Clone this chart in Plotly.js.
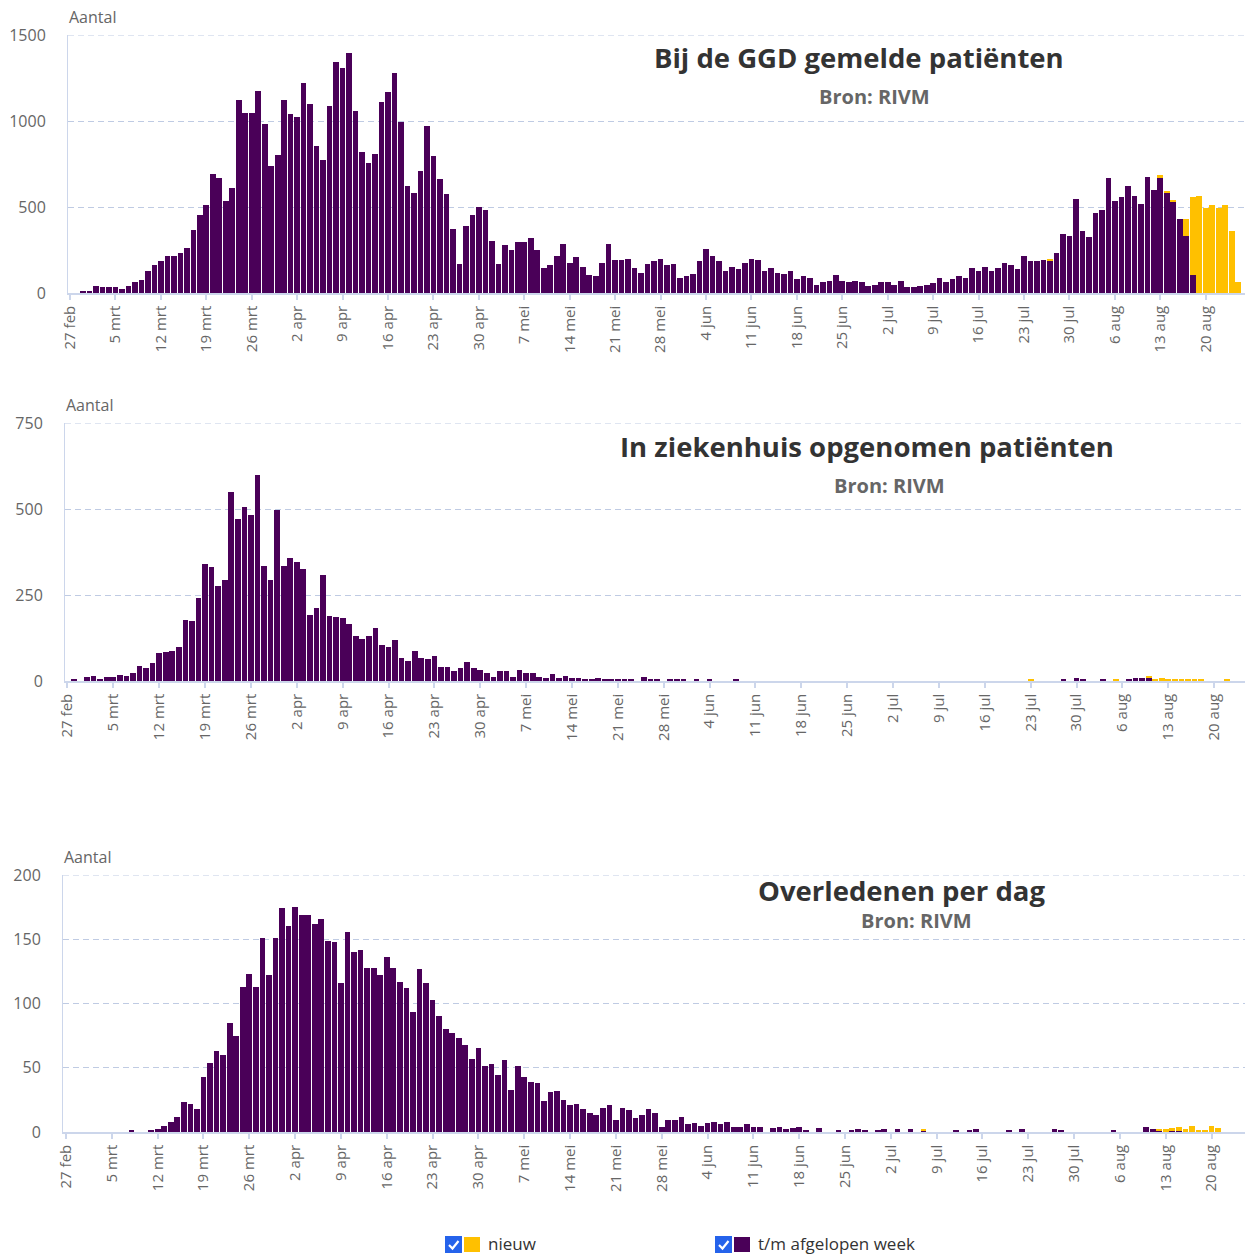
<!DOCTYPE html>
<html><head><meta charset="utf-8">
<script src="https://cdn.plot.ly/plotly-3.0.1.min.js"></script>
<style>html,body{margin:0;padding:0;background:#fff;}#chart{width:1247px;height:1255px;}</style>
</head><body><div id="chart"></div>
<script>
// ---- categories ----
const startDate = '2020-02-27';
const nDays = 181;
const tickDates = ['2020-02-27','2020-03-05','2020-03-12','2020-03-19','2020-03-26','2020-04-02','2020-04-09','2020-04-16','2020-04-23','2020-04-30','2020-05-07','2020-05-14','2020-05-21','2020-05-28','2020-06-04','2020-06-11','2020-06-18','2020-06-25','2020-07-02','2020-07-09','2020-07-16','2020-07-23','2020-07-30','2020-08-06','2020-08-13','2020-08-20'];
const tickLabels = ['27 feb','5 mrt','12 mrt','19 mrt','26 mrt','2 apr','9 apr','16 apr','23 apr','30 apr','7 mei','14 mei','21 mei','28 mei','4 jun','11 jun','18 jun','25 jun','2 jul','9 jul','16 jul','23 jul','30 jul','6 aug','13 aug','20 aug'];
const seriesNames = ['t/m afgelopen week','nieuw'];

// ---- GGD gemelde patiënten (from 27 feb) ----
const ggdWeek = [0,0,10,10,41,33,33,33,25,41,
64,74,129,160,184,215,215,230,264,367,
453,510,691,668,533,611,1121,1047,1047,1176,
984,740,803,1121,1039,1023,1223,1096,857,771,
1088,1342,1310,1396,1057,818,756,810,1111,1168,
1279,992,621,582,707,969,795,660,574,375,
168,391,455,500,484,303,168,279,248,297,
297,318,248,145,160,215,287,176,207,152,
104,96,176,287,191,191,199,145,119,168,
184,199,160,168,88,96,111,184,256,215,
184,129,152,137,176,199,191,129,145,119,
111,129,80,96,88,49,64,72,104,72,
64,72,64,41,49,64,64,49,72,33,
33,41,49,57,88,64,80,96,88,145,
129,152,129,145,176,160,137,215,184,184,
191,191,232,344,332,549,359,326,467,484,
668,533,557,621,564,518,676,596,674,582,
533,430,334,104,0,0,0,0,0,0,
0];
const ggdNew = [0,0,0,0,0,0,0,0,0,0,
0,0,0,0,0,0,0,0,0,0,
0,0,0,0,0,0,0,0,0,0,
0,0,0,0,0,0,0,0,0,0,
0,0,0,0,0,0,0,0,0,0,
0,0,0,0,0,0,0,0,0,0,
0,0,0,0,0,0,0,0,0,0,
0,0,0,0,0,0,0,0,0,0,
0,0,0,0,0,0,0,0,0,0,
0,0,0,0,0,0,0,0,0,0,
0,0,0,0,0,0,0,0,0,0,
0,0,0,0,0,0,0,0,0,0,
0,0,0,0,0,0,0,0,0,0,
0,0,0,0,0,0,0,0,0,0,
0,0,0,0,0,0,0,0,0,0,
0,4,0,0,0,0,0,0,0,0,
0,0,0,0,0,0,0,0,10,6,
8,0,96,453,566,494,510,494,510,359,
64];

// ---- In ziekenhuis opgenomen patiënten ----
const zhWeek = [0,6,0,11,14,7,11,11,18,14,
22,45,37,53,80,84,87,99,178,174,
240,341,330,276,295,549,470,506,482,600,
334,295,497,334,358,346,326,193,213,307,
189,186,182,166,131,123,131,155,104,100,
119,68,57,87,68,64,72,41,41,28,
37,55,37,32,24,13,29,29,13,32,
24,24,13,8,20,8,15,8,8,4,
4,8,4,4,4,4,4,0,12,5,
5,0,5,5,5,0,4,0,4,0,
0,0,4,0,0,0,0,0,0,0,
0,0,0,0,0,0,0,0,0,0,
0,0,0,0,0,0,0,0,0,0,
0,0,0,0,0,0,0,0,0,0,
0,0,0,0,0,0,0,0,0,0,
0,0,5,0,9,5,0,0,5,0,
0,0,5,9,9,9,0,0,0,0,
0,0,0,0,0,0,0,0,0,0,
0];
const zhNew = [0,0,0,0,0,0,0,0,0,0,
0,0,0,0,0,0,0,0,0,0,
0,0,0,0,0,0,0,0,0,0,
0,0,0,0,0,0,0,0,0,0,
0,0,0,0,0,0,0,0,0,0,
0,0,0,0,0,0,0,0,0,0,
0,0,0,0,0,0,0,0,0,0,
0,0,0,0,0,0,0,0,0,0,
0,0,0,0,0,0,0,0,0,0,
0,0,0,0,0,0,0,0,0,0,
0,0,0,0,0,0,0,0,0,0,
0,0,0,0,0,0,0,0,0,0,
0,0,0,0,0,0,0,0,0,0,
0,0,0,0,0,0,0,0,0,0,
0,0,0,0,0,0,0,5,0,0,
0,0,0,0,0,0,0,0,0,0,
5,0,0,0,0,4,5,9,5,5,
5,5,5,5,0,0,0,5,0,0,
0];

// ---- Overledenen per dag ----
const ovWeek = [0,0,0,0,0,0,0,0,0,0,
1,0,0,1,2,5,8,12,23,22,
18,43,54,63,60,85,75,113,123,113,
151,122,151,174,160,175,169,169,162,166,
149,148,116,156,140,142,128,128,122,136,
128,117,112,93,127,116,103,90,80,77,
73,68,57,65,51,53,44,56,33,51,
43,39,38,24,31,32,25,21,22,18,
15,13,19,21,9,19,17,11,13,18,
15,4,9,9,12,6,7,5,7,8,
6,8,4,4,6,4,4,0,3,4,
2,3,4,1,0,3,0,0,1,0,
1,2,1,0,1,2,0,2,0,2,
0,1,0,0,0,0,1,0,1,2,
0,0,0,0,1,0,2,0,0,0,
0,2,1,0,0,0,0,0,0,0,
1,0,0,0,0,4,2,1,0,1,
1,0,0,0,0,0,0,0,0,0,
0];
const ovNew = [0,0,0,0,0,0,0,0,0,0,
0,0,0,0,0,0,0,0,0,0,
0,0,0,0,0,0,0,0,0,0,
0,0,0,0,0,0,0,0,0,0,
0,0,0,0,0,0,0,0,0,0,
0,0,0,0,0,0,0,0,0,0,
0,0,0,0,0,0,0,0,0,0,
0,0,0,0,0,0,0,0,0,0,
0,0,0,0,0,0,0,0,0,0,
0,0,0,0,0,0,0,0,0,0,
0,0,0,0,0,0,0,0,0,0,
0,0,0,0,0,0,0,0,0,0,
0,0,0,0,0,0,0,0,0,0,
0,1,0,0,0,0,0,0,0,0,
0,0,0,0,0,0,0,0,0,0,
0,0,0,0,0,0,0,0,0,0,
0,0,0,0,0,0,0,1,2,2,
3,2,5,1,1,5,3,0,0,0,
0];

// ---- build date categories ----
const DAY = 86400000;
const t0 = Date.parse(startDate + 'T00:00:00Z');
const dates = [];
for (let i = 0; i < nDays; i++) dates.push(new Date(t0 + i * DAY).toISOString().slice(0, 10));

const PURPLE = '#4a0058', YELLOW = '#ffc000';
const W = 1247, H = 1255;
const px = x => x / W, py = y => 1 - y / H;

function bars(yv, name, color, ax) {
  return {type: 'bar', x: dates, y: yv, name: name, xaxis: 'x' + ax, yaxis: 'y' + ax,
    marker: {color: color, line: {width: 0}}, showlegend: false, hoverinfo: 'x+y'};
}
const data = [
  bars(ggdWeek, seriesNames[0], PURPLE, ''), bars(ggdNew, seriesNames[1], YELLOW, ''),
  bars(zhWeek, seriesNames[0], PURPLE, '2'), bars(zhNew, seriesNames[1], YELLOW, '2'),
  bars(ovWeek, seriesNames[0], PURPLE, '3'), bars(ovNew, seriesNames[1], YELLOW, '3')
];

const FONT = 'Open Sans, Noto Sans, sans-serif';
const AX = '#ccd6eb', GRID = '#bfcbe3', TXT = '#666666';
const yMax = [1500, 750, 200];

function xAxis(left, right, d0, d1, anchor) {
  return {type: 'date', domain: [px(left), px(right)], anchor: anchor,
    range: [t0 + d0 * DAY, t0 + d1 * DAY],
    tickvals: tickDates, ticktext: tickLabels, tickangle: -90,
    ticks: 'outside', ticklen: 5, tickwidth: 1.5, tickcolor: AX,
    showline: true, linecolor: AX, linewidth: 1.5, showgrid: false, zeroline: false,
    tickfont: {family: FONT, size: 15, color: TXT}, fixedrange: true};
}
function yAxis(top, bottom, max, step, anchor) {
  const tv = []; for (let v = 0; v <= max; v += step) tv.push(v);
  return {domain: [py(bottom), py(top)], anchor: anchor, range: [0, max], tickvals: tv,
    ticks: 'outside', ticklen: 18, tickcolor: 'rgba(0,0,0,0)',
    showline: true, linecolor: AX, linewidth: 1, showgrid: true, gridcolor: GRID, griddash: '6px,4px', gridwidth: 1,
    zeroline: false, tickfont: {family: FONT, size: 16, color: TXT}, fixedrange: true};
}

function ann(text, x, y, size, color, bold, anchor) {
  return {text: bold ? '<b>' + text + '</b>' : text, xref: 'paper', yref: 'paper', x: px(x), y: py(y),
    xanchor: anchor || 'center', yanchor: 'middle', showarrow: false,
    font: {family: FONT, size: size, color: color}};
}

const annotations = [
  ann('Aantal', 67, 17, 16, TXT, false, 'left'),
  ann('Bij de GGD gemelde patiënten', 859, 57, 27.5, '#333333', true),
  ann('Bron: RIVM', 874, 97, 20, TXT, true),
  ann('Aantal', 64, 405, 16, TXT, false, 'left'),
  ann('In ziekenhuis opgenomen patiënten', 867, 447, 27.5, '#333333', true),
  ann('Bron: RIVM', 889, 485, 20, TXT, true),
  ann('Aantal', 62, 857, 16, TXT, false, 'left'),
  ann('Overledenen per dag', 901, 891, 27.5, '#333333', true),
  ann('Bron: RIVM', 916, 920, 20, TXT, true),
  ann(seriesNames[1], 486, 1243, 17, '#333333', false, 'left'),
  ann(seriesNames[0], 756, 1243, 17, '#333333', false, 'left')
];

function rect(x0, y0, x1, y1, color) {
  return {type: 'rect', xref: 'paper', yref: 'paper', x0: px(x0), x1: px(x1), y0: py(y1), y1: py(y0),
    fillcolor: color, line: {width: 0}, layer: 'above'};
}
function check(x0, y0) {
  const p = (x, y) => px(x0 + x) + ',' + py(y0 + y);
  return {type: 'path', xref: 'paper', yref: 'paper',
    path: 'M' + p(4, 9) + ' L' + p(7.5, 12.5) + ' L' + p(13.5, 5),
    line: {color: '#ffffff', width: 2.2}, layer: 'above'};
}
function topGrid(ax, v) {
  return {type: 'line', xref: 'x' + ax + ' domain', yref: 'y' + ax, x0: 0, x1: 1, y0: v, y1: v,
    line: {color: GRID, width: 1, dash: '6px,4px'}, layer: 'below'};
}
const shapes = [
  topGrid('', yMax[0]), topGrid('2', yMax[1]), topGrid('3', yMax[2]),
  rect(445, 1236, 462, 1253, '#2563eb'), check(445, 1236), rect(464, 1237, 480, 1252, YELLOW),
  rect(715, 1236, 732, 1253, '#2563eb'), check(715, 1236), rect(734, 1237, 750, 1252, PURPLE)
];

const layout = {
  width: W, height: H, margin: {l: 0, r: 0, t: 0, b: 0}, paper_bgcolor: '#fff', plot_bgcolor: '#fff',
  barmode: 'stack', bargap: 0.13, showlegend: false, font: {family: FONT},
  xaxis: xAxis(68, 1245, -0.31, 181.05, 'y'),
  yaxis: yAxis(35, 293, yMax[0], 500, 'x'),
  xaxis2: xAxis(65, 1245, -0.37, 179.7, 'y2'),
  yaxis2: yAxis(423, 681, yMax[1], 250, 'x2'),
  xaxis3: xAxis(63, 1245, -0.46, 180.1, 'y3'),
  yaxis3: yAxis(875, 1132, yMax[2], 50, 'x3'),
  annotations: annotations, shapes: shapes
};
Plotly.newPlot('chart', data, layout, {displayModeBar: false, responsive: false});
</script>
</body></html>
